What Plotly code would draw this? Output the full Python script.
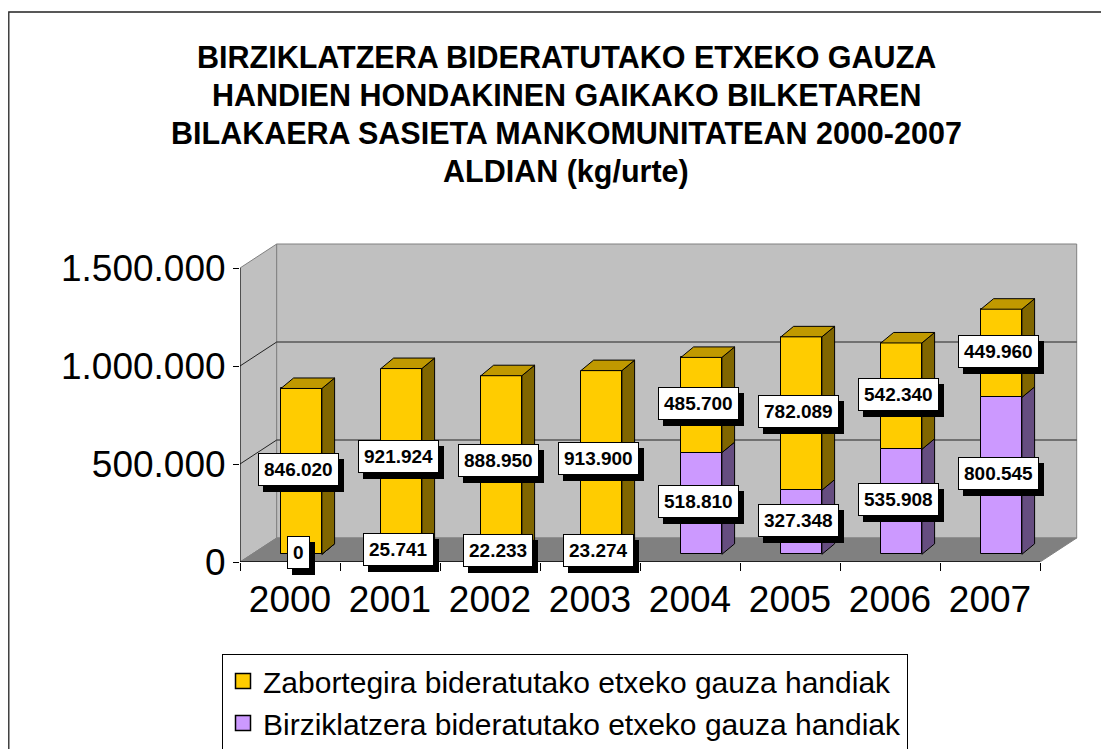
import plotly.graph_objects as go

# ---------------- data ----------------
years = ["2000", "2001", "2002", "2003", "2004", "2005", "2006", "2007"]
zabortegira = [846020, 921924, 888950, 913900, 485700, 782089, 542340, 449960]
birziklatzera = [0, 25741, 22233, 23274, 518810, 327348, 535908, 800545]
series_names = [
    "Zabortegira bideratutako etxeko gauza handiak",
    "Birziklatzera bideratutako etxeko gauza handiak",
]
y_ticks = [0, 500000, 1000000, 1500000]
title_lines = [
    "BIRZIKLATZERA BIDERATUTAKO ETXEKO GAUZA",
    "HANDIEN HONDAKINEN GAIKAKO BILKETAREN",
    "BILAKAERA SASIETA MANKOMUNITATEAN 2000-2007",
    "ALDIAN (kg/urte)",
]

# ---------------- layout geometry ----------------
OFF = 8                      # page body margin
W, H = 1109 - OFF, 749 - OFF
PLOT_LEFT, PLOT_RIGHT, PLOT_TOP, PLOT_BOTTOM = 240, 1080, 241, 562   # screen pixels
ML = PLOT_LEFT - OFF
MT = PLOT_TOP - OFF
MR = W - (PLOT_RIGHT - OFF)
MB = H - (PLOT_BOTTOM - OFF)
PLOT_W = PLOT_RIGHT - PLOT_LEFT
PLOT_H = PLOT_BOTTOM - PLOT_TOP
PX_PER_CAT = 100.0
PX_PER_UNIT = 294.0 / 1.5e6
x_lo = -0.5
x_hi = x_lo + PLOT_W / PX_PER_CAT
y_hi = PLOT_H / PX_PER_UNIT

n = len(years)
xs = list(range(n))
x_left, x_right = -0.5, n - 0.5
y_top = max(y_ticks)

WDX = 36.7 / PX_PER_CAT          # wall depth (x)
WDY = 24.0 / PX_PER_UNIT         # wall depth (y)
BAR_W = 0.41
BAR_SHIFT = 0.114
BDX = 12.7 / PX_PER_CAT
BDY = 10.5 / PX_PER_UNIT
BASE = 7.7 / PX_PER_UNIT
LABEL_SHIFT = 0.08

FONT = "Liberation Sans, Arial, sans-serif"
YEL, YEL_TOP, YEL_SIDE = "#FFCC00", "#C09900", "#806600"
PUR, PUR_SIDE = "#CC99FF", "#664D80"


def fmt(v):
    return f"{v:,}".replace(",", ".")


def path(pts):
    return "M " + " L ".join(f"{x},{y}" for x, y in pts) + " Z"


def px_paper_x(p):
    return (p - PLOT_LEFT) / PLOT_W


def px_paper_y(p):
    return (PLOT_BOTTOM - p) / PLOT_H


fig = go.Figure()

# front faces (bars)
purple_base = [BASE] * n
yellow_base = [BASE + b for b in birziklatzera]
fig.add_trace(go.Bar(
    x=xs, y=birziklatzera, base=purple_base, width=BAR_W,
    offset=BAR_SHIFT - BAR_W / 2, showlegend=False,
    marker=dict(color=PUR, line=dict(color="black", width=1)),
    hoverinfo="skip",
))
fig.add_trace(go.Bar(
    x=xs, y=zabortegira, base=yellow_base, width=BAR_W,
    offset=BAR_SHIFT - BAR_W / 2, showlegend=False,
    marker=dict(color=YEL, line=dict(color="black", width=1)),
    hoverinfo="skip",
))


def side_faces(bases, vals):
    px, py = [], []
    for i, (b, v) in enumerate(zip(bases, vals)):
        x1 = i + BAR_SHIFT + BAR_W / 2
        pts = [(x1, b), (x1 + BDX, b + BDY), (x1 + BDX, b + v + BDY), (x1, b + v), (x1, b)]
        px += [p[0] for p in pts] + [None]
        py += [p[1] for p in pts] + [None]
    return px, py


def top_faces(tops):
    px, py = [], []
    for i, t in enumerate(tops):
        x0 = i + BAR_SHIFT - BAR_W / 2
        x1 = x0 + BAR_W
        pts = [(x0, t), (x1, t), (x1 + BDX, t + BDY), (x0 + BDX, t + BDY), (x0, t)]
        px += [p[0] for p in pts] + [None]
        py += [p[1] for p in pts] + [None]
    return px, py


for (bx, by), col in [
    (side_faces(purple_base, birziklatzera), PUR_SIDE),
    (side_faces(yellow_base, zabortegira), YEL_SIDE),
    (top_faces([yb + z for yb, z in zip(yellow_base, zabortegira)]), YEL_TOP),
]:
    fig.add_trace(go.Scatter(
        x=bx, y=by, mode="lines", fill="toself", fillcolor=col,
        line=dict(color="black", width=1), showlegend=False, hoverinfo="skip",
    ))

# legend entries (square swatches)
for name, col, rank in [(series_names[0], YEL, 1), (series_names[1], PUR, 2)]:
    fig.add_trace(go.Scatter(
        x=[None], y=[None], mode="markers", name=name, legendrank=rank,
        marker=dict(symbol="square", size=15, color=col, line=dict(color="black", width=1.5)),
        hoverinfo="skip",
    ))

# invisible trace to carry the boundary tick axis
fig.add_trace(go.Scatter(x=[x_left], y=[0], xaxis="x2", mode="markers",
                         marker=dict(opacity=0), showlegend=False, hoverinfo="skip"))

# ---------------- walls / floor ----------------
shapes = []
shapes.append(dict(type="path", xref="x", yref="y", layer="below",
                   path=path([(x_left, 0), (x_left + WDX, WDY), (x_left + WDX, y_top + WDY), (x_left, y_top)]),
                   fillcolor="#C0C0C0", line=dict(color="#808080", width=1)))
shapes.append(dict(type="path", xref="x", yref="y", layer="below",
                   path=path([(x_left + WDX, WDY), (x_right + WDX, WDY), (x_right + WDX, y_top + WDY), (x_left + WDX, y_top + WDY)]),
                   fillcolor="#C0C0C0", line=dict(color="#808080", width=1)))
shapes.append(dict(type="path", xref="x", yref="y", layer="below",
                   path=path([(x_left, 0), (x_right, 0), (x_right + WDX, WDY), (x_left + WDX, WDY)]),
                   fillcolor="#808080", line=dict(color="#808080", width=1)))
for v in y_ticks[1:-1]:
    shapes.append(dict(type="line", xref="x", yref="y", layer="below",
                       x0=x_left + WDX, x1=x_right + WDX, y0=v + WDY, y1=v + WDY,
                       line=dict(color="#222222", width=1)))
    shapes.append(dict(type="line", xref="x", yref="y", layer="below",
                       x0=x_left, x1=x_left + WDX, y0=v, y1=v + WDY,
                       line=dict(color="#222222", width=1)))
shapes.append(dict(type="line", xref="x", yref="y", layer="below",
                   x0=x_left, x1=x_left, y0=0, y1=y_top, line=dict(color="black", width=1)))
shapes.append(dict(type="line", xref="x", yref="y", layer="below",
                   x0=x_left, x1=x_right, y0=0, y1=0, line=dict(color="black", width=1.5)))
shapes.append(dict(type="rect", xref="paper", yref="paper",
                   x0=px_paper_x(8.8), x1=px_paper_x(1125), y0=px_paper_y(765), y1=px_paper_y(12),
                   line=dict(color="#222222", width=1.3), fillcolor="rgba(0,0,0,0)"))

# ---------------- annotations ----------------
ann = []
for k, line in enumerate(title_lines):
    ann.append(dict(text=f"<b>{line}</b>", xref="paper", yref="paper",
                    x=px_paper_x(566), y=px_paper_y(57 + 38 * k),
                    xanchor="center", yanchor="middle", showarrow=False,
                    font=dict(family=FONT, size=30.5, color="black")))


def add_label(x, y, v):
    common = dict(x=x, y=y, xref="x", yref="y", text=f"<b>{fmt(v)}</b>",
                  showarrow=False, xanchor="center", yanchor="middle",
                  borderpad=5, borderwidth=1)
    ann.append(dict(common, xshift=5, yshift=2 - 6, bgcolor="black", bordercolor="black",
                    font=dict(family=FONT, size=19, color="black")))
    ann.append(dict(common, yshift=2, bgcolor="white", bordercolor="black",
                    font=dict(family=FONT, size=19, color="black")))


for i in range(n):
    b, z = birziklatzera[i], zabortegira[i]
    add_label(i + LABEL_SHIFT, BASE + z + b - z / 2, z)
for i in range(n):
    b = birziklatzera[i]
    add_label(i + LABEL_SHIFT, BASE + b / 2, b)

fig.update_layout(
    width=W, height=H,
    margin=dict(l=ML, r=MR, t=MT, b=MB, pad=0, autoexpand=False),
    paper_bgcolor="white", plot_bgcolor="white",
    barmode="overlay", bargap=0,
    font=dict(family=FONT, color="black"),
    shapes=shapes, annotations=ann,
    xaxis=dict(range=[x_lo, x_hi], tickvals=xs, ticktext=years, ticks="",
               showgrid=False, zeroline=False, showline=False, automargin=False,
               ticklabelstandoff=12,
               tickfont=dict(family=FONT, size=37, color="black")),
    xaxis2=dict(range=[x_lo, x_hi], overlaying="x", anchor="y", side="bottom",
                tickvals=[i - 0.5 for i in range(n + 1)], ticks="outside", ticklen=8,
                tickcolor="black", showticklabels=False, showgrid=False, zeroline=False,
                showline=False, automargin=False),
    yaxis=dict(range=[0, y_hi], tickvals=y_ticks, ticktext=[fmt(v) for v in y_ticks],
               ticks="outside", ticklen=6, tickcolor="black", showgrid=False,
               zeroline=False, showline=False, automargin=False,
               tickfont=dict(family=FONT, size=37, color="black")),
    legend=dict(x=px_paper_x(222), y=px_paper_y(654),
                xanchor="left", yanchor="top", bgcolor="white",
                bordercolor="black", borderwidth=1, itemwidth=30,
                font=dict(family=FONT, size=30, color="black")),
    showlegend=True,
)

fig.write_html("out.html")
